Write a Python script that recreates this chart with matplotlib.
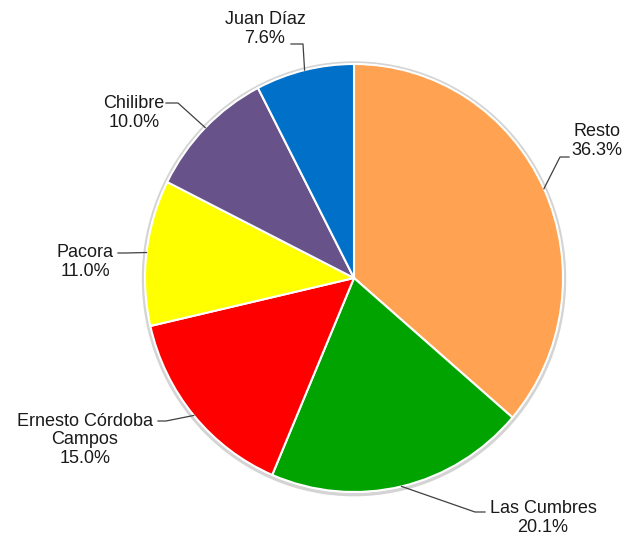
import numpy as np
import matplotlib
matplotlib.use("Agg")
import matplotlib.pyplot as plt
from matplotlib.patches import Ellipse

# Datos del grafico (porcentajes por corregimiento)
nombres = ["Resto", "Las Cumbres", "Ernesto Córdoba\nCampos", "Pacora", "Chilibre", "Juan Díaz"]
valores = [36.3, 20.1, 15.0, 11.0, 10.0, 7.6]
colores = ["#FFA251", "#00A300", "#FF0000", "#FFFF00", "#675389", "#0070C8"]

# Posiciones de etiquetas (pixeles: centro del texto, codo y final de la linea guia)
pos_texto = [(597, 141), (543, 518), (85, 440), (85, 262), (134, 113), (265, 29)]
pos_codo = [(560, 157), (475, 512), (166, 421), (126, 253), (178, 103), (303, 44)]
pos_fin = [(569, 157), (485, 512), (158, 421), (118, 253), (166, 103), (291, 44)]

W, H = 624, 537
cx, cy, radio = 354, 278, 209
esc_y = 209 / 214   # el pastel original es un poco mas alto que ancho

plt.rcParams["font.family"] = ["Liberation Sans", "DejaVu Sans"]
fig = plt.figure(figsize=(W / 100, H / 100), dpi=100)
ax = fig.add_axes([0, 0, 1, 1])


def py(y):
    # convierte y en pixeles (desde arriba) a coordenadas de datos
    return (H - y) * esc_y


# Sombra suave alrededor del pastel
ax.add_patch(Ellipse((cx, py(cy) - 0.8), 2 * radio + 3, 2 * radio + 3.5,
                     facecolor="none", edgecolor="#d4d4d4", linewidth=2.5, zorder=0))

wedges, _ = ax.pie(
    valores, colors=colores, startangle=90, counterclock=False,
    center=(cx, py(cy)), radius=radio, frame=True,
    wedgeprops={"edgecolor": "white", "linewidth": 1.5},
)
ax.set_aspect("auto")
ax.set_xlim(0, W)
ax.set_ylim(0, H * esc_y)
ax.axis("off")

for w, nombre, val, pt, pc, pf in zip(wedges, nombres, valores,
                                      pos_texto, pos_codo, pos_fin):
    ang = np.deg2rad((w.theta1 + w.theta2) / 2)
    xr = cx + radio * np.cos(ang)
    yr = py(cy) + radio * np.sin(ang)
    ax.plot([xr, pc[0], pf[0]], [yr, py(pc[1]), py(pf[1])],
            color="#404040", linewidth=0.9, zorder=3)
    ax.text(pt[0], py(pt[1]), f"{nombre}\n{val:.1f}%", ha="center", va="center",
            fontsize=13, color="#1a1a1a", linespacing=1.15, zorder=4)

fig.savefig("out.png", dpi=100)
